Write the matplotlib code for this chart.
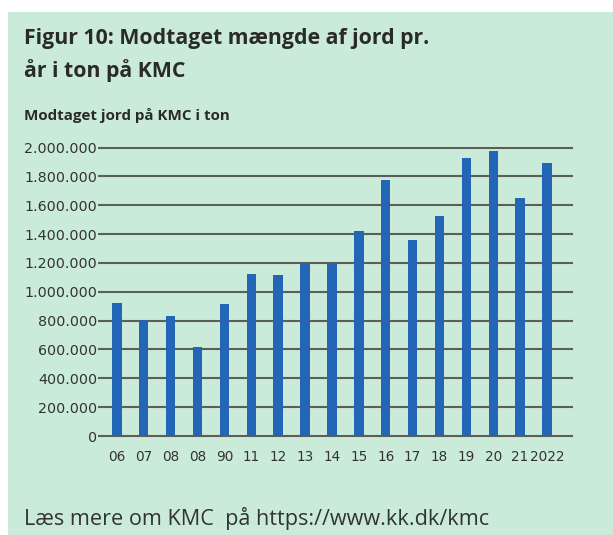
import numpy as np
import matplotlib
matplotlib.use('Agg')
import matplotlib.pyplot as plt
from matplotlib.patches import Rectangle

# data
years = ['06', '07', '08', '08', '90', '11', '12', '13', '14', '15',
         '16', '17', '18', '19', '20', '21', '2022']
tons = [920000, 805000, 835000, 615000, 915000, 1122000, 1116000, 1192000,
        1192000, 1424000, 1778000, 1356000, 1528000, 1930000, 1977000,
        1653000, 1891000]
yticks = [0, 200000, 400000, 600000, 800000, 1000000, 1200000, 1400000,
          1600000, 1800000, 2000000]

title = 'Figur 10: Modtaget mængde af jord pr.\når i ton på KMC'
subtitle = 'Modtaget jord på KMC i ton'
footer = 'Læs mere om KMC  på https://www.kk.dk/kmc'

bg = '#cbebda'
bar_color = '#2366b5'
grid_color = '#5a5f5c'
text_color = '#2a2a2a'

W, H = 613, 535
fig = plt.figure(figsize=(W / 100, H / 100), dpi=100, facecolor='white')

# green panel
fig.patches.append(Rectangle((8 / W, 0), 1, (H - 12) / H, transform=fig.transFigure,
                             facecolor=bg, edgecolor='none', zorder=-10))

fig.text(24 / W, 1 - 28 / H, title, fontsize=15.3, fontweight='bold', family='Open Sans',
         color=text_color, va='top', ha='left', linespacing=1.55)
fig.text(24 / W, 1 - 108 / H, subtitle, fontsize=10.9, fontweight='bold', family='Open Sans',
         color=text_color, va='top', ha='left')
fig.text(24 / W, 1 - 507 / H, footer, fontsize=15.6, family='Open Sans',
         color='#333333', va='top', ha='left')

ax = fig.add_axes([104 / W, (H - 436) / H, (572 - 104) / W, 288.5 / H])
ax.set_facecolor('none')

x = np.arange(len(years))
ax.bar(x, tons, width=0.35, color=bar_color, zorder=3)

ax.set_xlim(-0.48, 16.93)
ax.set_ylim(0, 2000000)
ax.set_yticks(yticks)
ax.set_yticklabels(['{:,}'.format(v).replace(',', '.') for v in yticks])
ax.set_xticks(x)
ax.set_xticklabels(years)

ax.grid(axis='y', color=grid_color, linewidth=1.5, zorder=1)
for gl in ax.get_ygridlines():
    gl.set_clip_on(False)
ax.set_axisbelow(True)

for s in ax.spines.values():
    s.set_visible(False)

ax.tick_params(axis='y', length=4, width=1.5, color=grid_color, pad=1,
               labelsize=10.3, labelcolor='#333333')
ax.tick_params(axis='x', length=0, pad=10, labelsize=9.8, labelcolor='#333333')
for lab in ax.get_xticklabels() + ax.get_yticklabels():
    lab.set_family('DejaVu Sans')

plt.savefig('out.png', dpi=100, facecolor=fig.get_facecolor())
